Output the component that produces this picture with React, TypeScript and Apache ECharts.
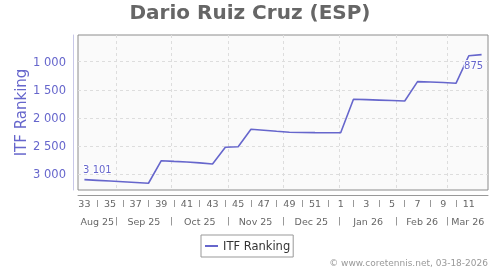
import React, { useEffect, useRef } from 'react';
import * as echarts from 'echarts';

// ISO week numbers (week 33 of 2025 to week 12 of 2026)
const weeks = [33, 34, 35, 36, 37, 38, 39, 40, 41, 42, 43, 44, 45, 46, 47, 48, 49, 50, 51, 52, 1, 2, 3, 4, 5, 6, 7, 8, 9, 10, 11, 12];
// ITF ranking per week
const ranks = [3101, 3113, 3126, 3139, 3152, 3165, 2763, 2775, 2786, 2802, 2822, 2524, 2515, 2204, 2220, 2240, 2256, 2260, 2263, 2265, 2265, 1670, 1676, 1684, 1692, 1700, 1356, 1363, 1372, 1385, 895, 875];
const yTicks = [1000, 1500, 2000, 2500, 3000];
const months = ['Aug 25', 'Sep 25', 'Oct 25', 'Nov 25', 'Dec 25', 'Jan 26', 'Feb 26', 'Mar 26'];
const monthStarts = ['2025-09-01', '2025-10-01', '2025-11-01', '2025-12-01', '2026-01-01', '2026-02-01', '2026-03-01'];
const axisStart = '2025-08-11';
const axisEnd = '2026-03-23';
const labelledPoints = [0, 31];

const DAY = 86400000;
const dayOf = (s: string) => (Date.parse(s) - Date.parse(axisStart)) / DAY;
const fmt = (v: number) => String(v).replace(/\B(?=(\d{3})+(?!\d))/g, ' ');

const FONT = 'DejaVu Sans';
const LINE = '#6666cc';

export default function App() {
  const ref = useRef<HTMLDivElement>(null);
  useEffect(() => {
    const chart = echarts.init(ref.current!, null, { renderer: 'svg' });
    const xMax = dayOf(axisEnd);
    const weekX = weeks.map((_, i) => i * 7 + 3.5);
    const edges = [0, ...monthStarts.map(dayOf), xMax];
    const monthMid = months.map((_, i) => (edges[i] + edges[i + 1]) / 2);
    const labelWeekX = weekX.filter((_, i) => i % 2 === 0);
    const sepWeekX = weekX.filter((_, i) => i % 2 === 1 && i < weeks.length - 1);

    const baseX = {
      type: 'value',
      min: 0,
      max: xMax,
      position: 'bottom',
      gridIndex: 0,
      axisLine: { show: false, onZero: false },
      axisTick: { show: false },
      axisLabel: { show: false },
      splitLine: { show: false },
    };

    const data = ranks.map((v, i) => {
      const item: any = { value: [weekX[i], v] };
      if (labelledPoints.includes(i)) {
        item.symbol = 'circle';
        item.symbolSize = 1;
        item.itemStyle = { color: 'rgba(0,0,0,0)' };
        item.label = i === 0
          ? { show: true, position: 'top', offset: [13, 0] }
          : { show: true, position: 'bottom', offset: [-8, 0] };
      }
      return item;
    });

    chart.setOption({
      animation: false,
      textStyle: { fontFamily: FONT },
      title: {
        text: 'Dario Ruiz Cruz (ESP)',
        left: 'center',
        top: 2,
        padding: 0,
        textStyle: { fontSize: 20, fontWeight: 'bold', color: '#666666', fontFamily: FONT },
      },
      grid: {
        left: 78,
        top: 35,
        width: 410,
        height: 155,
        show: true,
        backgroundColor: '#fafafa',
        borderColor: '#8c8c8c',
        borderWidth: 1,
      },
      legend: {
        left: 201,
        top: 235,
        padding: [5, 3, 5, 4],
        borderColor: '#999999',
        borderWidth: 1,
        backgroundColor: '#ffffff',
        icon: 'rect',
        itemWidth: 13,
        itemHeight: 2,
        itemGap: 0,
        textStyle: { fontSize: 11.5, color: '#333333', fontFamily: FONT },
      },
      xAxis: [
        {
          ...baseX,
          offset: 5,
          axisLine: { show: true, onZero: false, lineStyle: { color: '#999999' } },
          axisLabel: {
            show: true,
            customValues: labelWeekX,
            formatter: (v: number) => String(weeks[Math.round((v - 3.5) / 7)]),
            color: '#666666',
            fontSize: 9.5,
            fontFamily: FONT,
            margin: 8,
            verticalAlign: 'middle',
          },
        },
        {
          ...baseX,
          offset: 10,
          axisTick: { show: true, customValues: sepWeekX, length: 7, lineStyle: { color: '#999999' } },
        },
        {
          ...baseX,
          offset: 27,
          axisTick: { show: true, customValues: monthStarts.map(dayOf), length: 8.5, lineStyle: { color: '#999999' } },
          axisLabel: {
            show: true,
            customValues: monthMid,
            formatter: (v: number) => months[monthMid.findIndex((m) => Math.abs(m - v) < 0.01)] ?? '',
            color: '#666666',
            fontSize: 9.5,
            fontFamily: FONT,
            margin: 4,
            verticalAlign: 'middle',
          },
          splitLine: { show: true, lineStyle: { color: '#dddddd', type: [3, 3], width: 1 } },
        },
      ],
      yAxis: {
        type: 'value',
        inverse: true,
        min: 525,
        max: 3285,
        offset: 5,
        axisLine: { show: true, onZero: false, lineStyle: { color: '#c8c8e8' } },
        axisTick: { show: false, customValues: yTicks },
        axisLabel: {
          customValues: yTicks,
          formatter: (v: number) => fmt(v),
          color: '#6666cc',
          fontSize: 11.5,
          fontFamily: FONT,
          margin: 7,
        },
        splitLine: { show: true, lineStyle: { color: '#dddddd', type: [3, 3], width: 1 } },
        name: 'ITF Ranking',
        nameLocation: 'middle',
        nameGap: 45,
        nameMoveOverlap: false,
        nameTextStyle: { color: '#6666cc', fontSize: 15, fontFamily: FONT },
      },
      series: [
        {
          name: 'ITF Ranking',
          type: 'line',
          xAxisIndex: 0,
          yAxisIndex: 0,
          data,
          symbol: 'none',
          showSymbol: true,
          lineStyle: { color: LINE, width: 1.6 },
          itemStyle: { color: LINE },
          label: {
            show: false,
            formatter: (p: any) => fmt(p.value[1]),
            fontSize: 10,
            color: LINE,
            fontFamily: FONT,
            textBorderColor: '#ffffff',
            textBorderWidth: 2,
          },
        },
      ],
      graphic: [
        {
          type: 'text',
          right: 12,
          top: 258,
          style: { text: '© www.coretennis.net, 03-18-2026', fill: '#999999', font: `9px "${FONT}"` },
        },
      ],
    });
    return () => chart.dispose();
  }, []);
  return <div ref={ref} style={{ position: 'fixed', left: 0, top: 0, width: 500, height: 270 }} />;
}
